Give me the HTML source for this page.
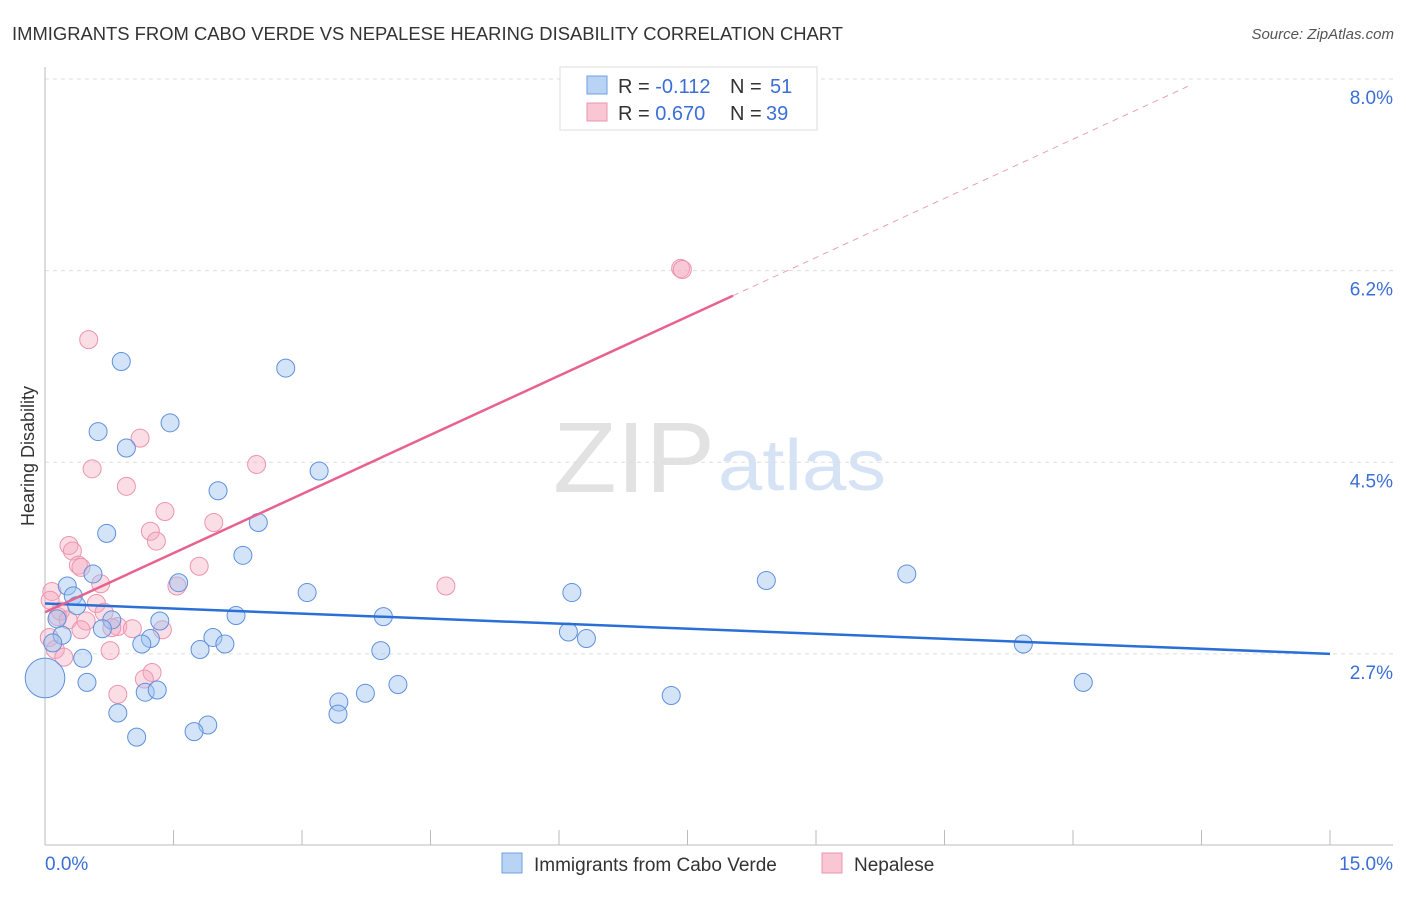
<!DOCTYPE html>
<html><head><meta charset="utf-8"><style>
body{margin:0;background:#fff;font-family:"Liberation Sans",sans-serif}
svg text{font-family:"Liberation Sans",sans-serif}
</style></head><body>
<svg id="c" width="1406" height="892" xmlns="http://www.w3.org/2000/svg">
<text x="12" y="40" font-size="18" fill="#333" textLength="831" lengthAdjust="spacingAndGlyphs">IMMIGRANTS FROM CABO VERDE VS NEPALESE HEARING DISABILITY CORRELATION CHART</text>
<text x="1394" y="39" font-size="15" fill="#555" text-anchor="end" font-style="italic">Source: ZipAtlas.com</text>
<text x="553" y="492" font-size="100" fill="#e2e2e2" font-family="Liberation Serif" textLength="162" lengthAdjust="spacingAndGlyphs">ZIP</text>
<text x="718" y="490" font-size="72" fill="#d6e3f5" textLength="168" lengthAdjust="spacingAndGlyphs">atlas</text>
<text transform="translate(34,456) rotate(-90)" font-size="18" fill="#333" text-anchor="middle">Hearing Disability</text>
<g id="grid"></g><g id="axes"></g><g id="marks"></g>
<g>
<rect x="560" y="67" width="257" height="63" fill="#fff" stroke="#ddd"/>
<rect x="587" y="76" width="20" height="18" fill="#b9d3f5" stroke="#6f9fe0"/>
<rect x="587" y="103" width="20" height="18" fill="#f9c6d4" stroke="#ec94ae"/>
<text x="618" y="93" font-size="20" fill="#333">R = <tspan fill="#3b6fd4">-0.112</tspan></text>
<text x="730" y="93" font-size="20" fill="#333">N =</text>
<text x="770" y="93" font-size="20" fill="#3b6fd4">51</text>
<text x="618" y="120" font-size="20" fill="#333">R = <tspan fill="#3b6fd4">0.670</tspan></text>
<text x="730" y="120" font-size="20" fill="#333">N =</text>
<text x="766" y="120" font-size="20" fill="#3b6fd4">39</text>
</g>
<g>
<rect x="502" y="853" width="20" height="20" fill="#b9d3f5" stroke="#6f9fe0"/>
<text x="534" y="871" font-size="19" fill="#333">Immigrants from Cabo Verde</text>
<rect x="822" y="853" width="20" height="20" fill="#f9c6d4" stroke="#ec94ae"/>
<text x="854" y="871" font-size="19" fill="#333">Nepalese</text>
</g>
</svg>
<script>
const blueX=[0.89,2.81,0.62,1.46,0.95,3.20,2.02,0.72,2.49,2.31,0.56,1.56,0.26,0.33,3.06,0.37,6.15,8.42,10.06,0.14,0.78,1.34,2.23,3.95,0.20,0.67,1.23,1.96,6.11,6.32,11.42,0.09,1.13,1.81,2.10,3.92,0.44,0.49,1.17,1.31,3.43,3.74,4.12,7.31,12.12,0.00,0.85,3.42,1.90,1.74,1.07];
const blueY=[5.42,5.36,4.78,4.86,4.63,4.42,4.24,3.85,3.95,3.65,3.48,3.40,3.37,3.28,3.31,3.19,3.31,3.42,3.48,3.07,3.06,3.05,3.10,3.09,2.92,2.98,2.89,2.90,2.95,2.89,2.84,2.85,2.84,2.79,2.84,2.78,2.71,2.49,2.40,2.42,2.31,2.39,2.47,2.37,2.49,2.53,2.21,2.20,2.10,2.04,1.99];
const blueSize=[1,1,1,1,1,1,1,1,1,1,1,1,1,1,1,1,1,1,1,1,1,1,1,1,1,1,1,1,1,1,1,1,1,1,1,1,1,1,1,1,1,1,1,1,1,2.2,1,1,1,1,1];
const pinkX=[0.51,1.11,0.55,0.95,2.47,1.40,1.97,1.23,1.30,0.28,0.32,0.39,0.42,1.80,1.54,4.68,0.65,0.08,0.60,0.18,0.69,0.15,0.48,0.27,0.85,1.02,1.37,0.78,0.42,0.05,0.12,0.76,0.22,1.25,1.16,0.85,7.42,7.44,0.06];
const pinkY=[5.62,4.72,4.44,4.28,4.48,4.05,3.95,3.87,3.78,3.74,3.69,3.56,3.54,3.55,3.37,3.37,3.39,3.32,3.21,3.14,3.13,3.09,3.05,3.06,3.00,2.98,2.97,2.99,2.97,2.90,2.79,2.78,2.72,2.58,2.52,2.38,6.27,6.26,3.24];
const blueTrend=[3.21,2.75];
const pinkTrend=[3.13,0.36];
const yTicks=[8.0,6.25,4.5,2.75];
const yTickLabels=["8.0%","6.2%","4.5%","2.7%"];
const xTickLabels=["0.0%","15.0%"];
const NS="http://www.w3.org/2000/svg";
const X=v=>45+v/15*1285;
const Y=v=>79+(8-v)*109.5;
function mk(t,a,p){const e=document.createElementNS(NS,t);for(const k in a)e.setAttribute(k,a[k]);p.appendChild(e);return e;}
const grid=document.getElementById('grid'),axes=document.getElementById('axes'),marks=document.getElementById('marks');
yTicks.forEach((v,i)=>{
 const l=mk('line',{x1:45,x2:1393,y1:Y(v),y2:Y(v),stroke:'#ddd','stroke-dasharray':'4,4'},grid);
 
 
 const t=mk('text',{x:1393,y:Y(v)+25,'font-size':19,fill:'#3b6fd4','text-anchor':'end'},axes);
 t.textContent=yTickLabels[i];
 
 
});
mk('line',{x1:45,x2:45,y1:67,y2:845,stroke:'#bbb'},axes);
mk('line',{x1:45,x2:1393,y1:845,y2:845,stroke:'#bbb'},axes);
for(let i=0;i<=10;i++){const xv=i*1.5;const l=mk('line',{x1:X(xv),x2:X(xv),y1:830,y2:845,stroke:'#bbb'},axes);
 
 }
const xl0=mk('text',{x:45,y:870,'font-size':19,fill:'#3b6fd4'},axes);xl0.textContent=xTickLabels[0];


const xl1=mk('text',{x:1393,y:870,'font-size':19,fill:'#3b6fd4','text-anchor':'end'},axes);xl1.textContent=xTickLabels[1];


pinkX.forEach((v,i)=>{const c=mk('circle',{cx:X(v),cy:Y(pinkY[i]),r:9,fill:'rgba(246,170,192,0.4)',stroke:'#ec94ae','stroke-width':1},marks);
 
 });
blueX.forEach((v,i)=>{const c=mk('circle',{cx:X(v),cy:Y(blueY[i]),r:9*blueSize[i],fill:'rgba(160,196,240,0.45)',stroke:'#5f90dc','stroke-width':1},marks);
 
 });
const bt=mk('line',{x1:X(0),y1:Y(blueTrend[0]),x2:X(15),y2:Y(blueTrend[1]),stroke:'#2a6fd6','stroke-width':2.5},marks);


const pe=8.03, pd=13.37;
const pt=mk('line',{x1:X(0),y1:Y(pinkTrend[0]),x2:X(pe),y2:Y(pinkTrend[0]+pinkTrend[1]*pe),stroke:'#e8628f','stroke-width':2.5},marks);


const pdl=mk('line',{x1:X(pe),y1:Y(pinkTrend[0]+pinkTrend[1]*pe),x2:X(pd),y2:Y(pinkTrend[0]+pinkTrend[1]*pd),stroke:'#eaa0b8','stroke-width':1,'stroke-dasharray':'6,5'},marks);


</script>
</body></html>
